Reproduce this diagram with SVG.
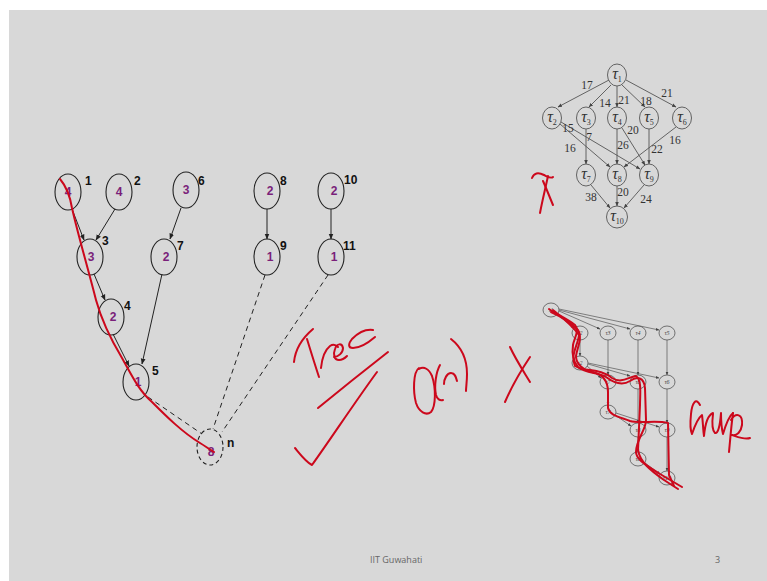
<svg xmlns="http://www.w3.org/2000/svg" width="767" height="581" viewBox="0 0 767 581">
  <style>
    .tn { fill: none; stroke: #222; stroke-width: 1.1; }
    .tnd { fill: none; stroke: #222; stroke-width: 1.1; stroke-dasharray: 4 3; }
    .tv { font-family: "Liberation Sans", Arial, sans-serif; font-weight: bold; font-size: 12px; fill: #7a1f7a; text-anchor: middle; }
    .ti { font-family: "Liberation Sans", Arial, sans-serif; font-weight: bold; font-size: 12px; fill: #111; }
    .te { stroke: #222; stroke-width: 1; fill: none; }
    .ted { stroke: #222; stroke-width: 1; fill: none; stroke-dasharray: 5 4; }
    .dn { fill: none; stroke: #555; stroke-width: 0.9; }
    .dl { font-family: "Liberation Serif", "Times New Roman", serif; font-style: italic; font-size: 16px; fill: #333; text-anchor: middle; }
    .ds { font-size: 8px; font-style: normal; }
    .de { stroke: #555; stroke-width: 0.9; fill: none; }
    .dw { font-family: "Liberation Serif", "Times New Roman", serif; font-size: 11.5px; fill: #333; text-anchor: middle; }
    .gn { fill: none; stroke: #555; stroke-width: 0.8; }
    .gl { font-family: "Liberation Serif", serif; font-style: italic; font-size: 6px; fill: #444; text-anchor: middle; }
    .ge { stroke: #555; stroke-width: 0.7; fill: none; }
    .ink { fill: none; stroke: #cc081c; stroke-width: 2; stroke-linecap: round; stroke-linejoin: round; }
    .foot { font-family: "Open Sans", "Liberation Sans", sans-serif; font-size: 9px; fill: #666; }
  </style>
  <defs>
    <marker id="ah" viewBox="0 0 10 10" refX="9" refY="5" markerWidth="6" markerHeight="6" orient="auto">
      <path d="M0,1 L10,5 L0,9 z" fill="#222"/>
    </marker>
    <marker id="ahs" viewBox="0 0 10 10" refX="9" refY="5" markerWidth="5" markerHeight="5" orient="auto">
      <path d="M0,1 L10,5 L0,9 z" fill="#444"/>
    </marker>
  </defs>

  <!-- slide background -->
  <rect x="0" y="0" width="767" height="581" fill="#ffffff"/>
  <rect x="9" y="10" width="758" height="571" fill="#d8d8d8"/>

  <!-- tree connectors -->
  <g id="tree-connectors">
    <line class="te" x1="72" y1="209" x2="84" y2="240" marker-end="url(#ah)"/>
    <line class="te" x1="115" y1="209" x2="96" y2="240" marker-end="url(#ah)"/>
    <line class="te" x1="94" y1="274" x2="105" y2="300" marker-end="url(#ah)"/>
    <line class="te" x1="181" y1="208" x2="170" y2="239" marker-end="url(#ah)"/>
    <line class="te" x1="162" y1="274" x2="142" y2="364" marker-end="url(#ah)"/>
    <line class="te" x1="113" y1="334" x2="129" y2="366" marker-end="url(#ah)"/>
    <line class="te" x1="267" y1="209" x2="267" y2="239" marker-end="url(#ah)"/>
    <line class="te" x1="331" y1="209" x2="331" y2="239" marker-end="url(#ah)"/>
    <line class="ted" x1="148" y1="397" x2="202" y2="434"/>
    <line class="ted" x1="265" y1="275" x2="213" y2="429"/>
    <line class="ted" x1="328" y1="275" x2="222" y2="432"/>
  </g>

  <!-- tree nodes -->
  <g id="t1"><ellipse class="tn" cx="68" cy="192" rx="13" ry="18"/><text class="tv" x="68" y="196">4</text><text class="ti" x="85" y="185">1</text></g>
  <g id="t2"><ellipse class="tn" cx="119" cy="192" rx="13" ry="18"/><text class="tv" x="119" y="196">4</text><text class="ti" x="134" y="185">2</text></g>
  <g id="t6"><ellipse class="tn" cx="186" cy="190" rx="13" ry="18"/><text class="tv" x="186" y="194">3</text><text class="ti" x="198" y="185">6</text></g>
  <g id="t3"><ellipse class="tn" cx="90" cy="257" rx="13" ry="18"/><text class="tv" x="91" y="261">3</text><text class="ti" x="102" y="245">3</text></g>
  <g id="t7"><ellipse class="tn" cx="164" cy="257" rx="13" ry="18"/><text class="tv" x="166" y="261">2</text><text class="ti" x="177" y="250">7</text></g>
  <g id="t4"><ellipse class="tn" cx="111" cy="317" rx="13" ry="18"/><text class="tv" x="113" y="321">2</text><text class="ti" x="124" y="310">4</text></g>
  <g id="t5"><ellipse class="tn" cx="136" cy="382" rx="13" ry="18"/><text class="tv" x="138" y="386">1</text><text class="ti" x="152" y="375">5</text></g>
  <g id="t8"><ellipse class="tn" cx="267" cy="191" rx="13" ry="18"/><text class="tv" x="270" y="195">2</text><text class="ti" x="280" y="185">8</text></g>
  <g id="t9"><ellipse class="tn" cx="267" cy="257" rx="13" ry="18"/><text class="tv" x="270" y="261">1</text><text class="ti" x="280" y="250">9</text></g>
  <g id="t10"><ellipse class="tn" cx="331" cy="191" rx="13" ry="18"/><text class="tv" x="334" y="195">2</text><text class="ti" x="344" y="184">10</text></g>
  <g id="t11"><ellipse class="tn" cx="331" cy="257" rx="13" ry="18"/><text class="tv" x="334" y="261">1</text><text class="ti" x="343" y="250">11</text></g>
  <g id="tn"><ellipse class="tnd" cx="210" cy="447" rx="13" ry="18"/><text class="tv" x="211" y="456">8</text><text class="ti" x="227" y="447">n</text></g>

  <!-- path traced over the tree -->
  <path class="ink" d="M60,179 C66,186 70,196 72,208 C78,235 88,268 96,300 C102,322 110,338 122,358 C130,372 138,390 152,402 C166,416 182,432 200,443 C205,446 209,449 214,452"/>

  <!-- task graph connectors -->
  <g id="dag-connectors">
    <line class="de" x1="609" y1="80" x2="558" y2="107" marker-end="url(#ahs)"/>
    <line class="de" x1="611" y1="85" x2="589" y2="107" marker-end="url(#ahs)"/>
    <line class="de" x1="617" y1="86" x2="617" y2="107" marker-end="url(#ahs)"/>
    <line class="de" x1="622" y1="85" x2="645" y2="107" marker-end="url(#ahs)"/>
    <line class="de" x1="626" y1="80" x2="676" y2="107" marker-end="url(#ahs)"/>
    <line class="de" x1="560" y1="124" x2="610" y2="167" marker-end="url(#ahs)"/>
    <line class="de" x1="561" y1="122" x2="640" y2="169" marker-end="url(#ahs)"/>
    <line class="de" x1="586" y1="129" x2="586" y2="164" marker-end="url(#ahs)"/>
    <line class="de" x1="617" y1="129" x2="617" y2="164" marker-end="url(#ahs)"/>
    <line class="de" x1="622" y1="128" x2="645" y2="165" marker-end="url(#ahs)"/>
    <line class="de" x1="649" y1="129" x2="649" y2="164" marker-end="url(#ahs)"/>
    <line class="de" x1="676" y1="127" x2="624" y2="167" marker-end="url(#ahs)"/>
    <line class="de" x1="591" y1="185" x2="610" y2="208" marker-end="url(#ahs)"/>
    <line class="de" x1="617" y1="186" x2="617" y2="206" marker-end="url(#ahs)"/>
    <line class="de" x1="644" y1="185" x2="624" y2="208" marker-end="url(#ahs)"/>
    <text class="dw" x="587" y="89">17</text>
    <text class="dw" x="605" y="107">14</text>
    <text class="dw" x="624" y="104">21</text>
    <text class="dw" x="646" y="105">18</text>
    <text class="dw" x="667" y="97">21</text>
    <text class="dw" x="568" y="132">15</text>
    <text class="dw" x="589" y="141">7</text>
    <text class="dw" x="633" y="134">20</text>
    <text class="dw" x="570" y="152">16</text>
    <text class="dw" x="623" y="149">26</text>
    <text class="dw" x="657" y="153">22</text>
    <text class="dw" x="675" y="144">16</text>
    <text class="dw" x="591" y="201">38</text>
    <text class="dw" x="623" y="196">20</text>
    <text class="dw" x="646" y="203">24</text>
  </g>

  <!-- task graph nodes -->
  <g id="d1"><ellipse class="dn" cx="617" cy="75" rx="9.5" ry="11"/><text class="dl" x="617" y="79">τ<tspan class="ds" dy="3">1</tspan></text></g>
  <g id="d2"><ellipse class="dn" cx="552" cy="118" rx="9.5" ry="11"/><text class="dl" x="552" y="122">τ<tspan class="ds" dy="3">2</tspan></text></g>
  <g id="d3"><ellipse class="dn" cx="586" cy="118" rx="9.5" ry="11"/><text class="dl" x="586" y="122">τ<tspan class="ds" dy="3">3</tspan></text></g>
  <g id="d4"><ellipse class="dn" cx="617" cy="118" rx="9.5" ry="11"/><text class="dl" x="617" y="122">τ<tspan class="ds" dy="3">4</tspan></text></g>
  <g id="d5"><ellipse class="dn" cx="649" cy="118" rx="9.5" ry="11"/><text class="dl" x="649" y="122">τ<tspan class="ds" dy="3">5</tspan></text></g>
  <g id="d6"><ellipse class="dn" cx="682" cy="118" rx="9.5" ry="11"/><text class="dl" x="682" y="122">τ<tspan class="ds" dy="3">6</tspan></text></g>
  <g id="d7"><ellipse class="dn" cx="586" cy="175" rx="9.5" ry="11"/><text class="dl" x="586" y="179">τ<tspan class="ds" dy="3">7</tspan></text></g>
  <g id="d8"><ellipse class="dn" cx="617" cy="175" rx="9.5" ry="11"/><text class="dl" x="617" y="179">τ<tspan class="ds" dy="3">8</tspan></text></g>
  <g id="d9"><ellipse class="dn" cx="649" cy="175" rx="9.5" ry="11"/><text class="dl" x="649" y="179">τ<tspan class="ds" dy="3">9</tspan></text></g>
  <g id="d10"><ellipse class="dn" cx="617" cy="217" rx="10.5" ry="11"/><text class="dl" x="617" y="221">τ<tspan class="ds" dy="3">10</tspan></text></g>

  <!-- chain graph connectors -->
  <g id="grid-connectors">
    <line class="ge" x1="557" y1="314" x2="574" y2="328" marker-end="url(#ahs)"/>
    <line class="ge" x1="559" y1="311" x2="600" y2="329" marker-end="url(#ahs)"/>
    <line class="ge" x1="559" y1="310" x2="630" y2="329" marker-end="url(#ahs)"/>
    <line class="ge" x1="559" y1="309" x2="659" y2="330" marker-end="url(#ahs)"/>
    <line class="ge" x1="580" y1="340" x2="580" y2="356" marker-end="url(#ahs)"/>
    <line class="ge" x1="608" y1="340" x2="608" y2="375" marker-end="url(#ahs)"/>
    <line class="ge" x1="638" y1="340" x2="638" y2="375" marker-end="url(#ahs)"/>
    <line class="ge" x1="667" y1="340" x2="667" y2="375" marker-end="url(#ahs)"/>
    <line class="ge" x1="587" y1="366" x2="601" y2="378" marker-end="url(#ahs)"/>
    <line class="ge" x1="588" y1="364" x2="630" y2="376" marker-end="url(#ahs)"/>
    <line class="ge" x1="588" y1="363" x2="659" y2="378" marker-end="url(#ahs)"/>
    <line class="ge" x1="608" y1="389" x2="608" y2="405" marker-end="url(#ahs)"/>
    <line class="ge" x1="638" y1="389" x2="638" y2="423" marker-end="url(#ahs)"/>
    <line class="ge" x1="667" y1="389" x2="667" y2="423" marker-end="url(#ahs)"/>
    <line class="ge" x1="615" y1="415" x2="631" y2="426" marker-end="url(#ahs)"/>
    <line class="ge" x1="616" y1="413" x2="659" y2="427" marker-end="url(#ahs)"/>
    <line class="ge" x1="638" y1="437" x2="638" y2="452" marker-end="url(#ahs)"/>
    <line class="ge" x1="667" y1="437" x2="667" y2="471" marker-end="url(#ahs)"/>
    <line class="ge" x1="645" y1="463" x2="660" y2="474" marker-end="url(#ahs)"/>
  </g>

  <!-- chain graph nodes -->
  <g id="g1"><ellipse class="gn" cx="551" cy="310" rx="8" ry="7"/><text class="gl" x="551" y="312">τ1</text></g>
  <g id="g2"><ellipse class="gn" cx="580" cy="333" rx="8" ry="7"/><text class="gl" x="580" y="335">τ2</text></g>
  <g id="g3"><ellipse class="gn" cx="608" cy="333" rx="8" ry="7"/><text class="gl" x="608" y="335">τ3</text></g>
  <g id="g4"><ellipse class="gn" cx="638" cy="333" rx="8" ry="7"/><text class="gl" x="638" y="335">τ4</text></g>
  <g id="g5"><ellipse class="gn" cx="667" cy="333" rx="8" ry="7"/><text class="gl" x="667" y="335">τ5</text></g>
  <g id="g6"><ellipse class="gn" cx="580" cy="363" rx="8" ry="7"/><text class="gl" x="580" y="365">τ2</text></g>
  <g id="g7"><ellipse class="gn" cx="608" cy="382" rx="8" ry="7"/><text class="gl" x="608" y="384">τ7</text></g>
  <g id="g8"><ellipse class="gn" cx="638" cy="382" rx="8" ry="7"/><text class="gl" x="638" y="384">τ8</text></g>
  <g id="g9"><ellipse class="gn" cx="667" cy="382" rx="8" ry="7"/><text class="gl" x="667" y="384">τ6</text></g>
  <g id="g10"><ellipse class="gn" cx="608" cy="412" rx="8" ry="7"/><text class="gl" x="608" y="414">τ7</text></g>
  <g id="g11"><ellipse class="gn" cx="638" cy="430" rx="8" ry="7"/><text class="gl" x="638" y="432">τ8</text></g>
  <g id="g12"><ellipse class="gn" cx="667" cy="430" rx="8" ry="7"/><text class="gl" x="667" y="432">τ9</text></g>
  <g id="g13"><ellipse class="gn" cx="638" cy="459" rx="8" ry="7"/><text class="gl" x="638" y="461">τ8</text></g>
  <g id="g14"><ellipse class="gn" cx="667" cy="478" rx="8" ry="7"/><text class="gl" x="667" y="480">τ10</text></g>

  <!-- handwritten annotations -->
  <g id="ink">
    <!-- cross beside the task graph -->
    <path class="ink" d="M532,178 C534,173 538,172 544,175 C548,177 551,179 553,177"/>
    <path class="ink" d="M548,176 C545,190 542,202 540,213"/>
    <path class="ink" d="M543,181 C547,190 550,198 553,205"/>
    <!-- "Trec" -->
    <path class="ink" d="M294,362 C295,352 300,340 313,329"/>
    <path class="ink" d="M307,339 C311,352 315,365 319,377"/>
    <path class="ink" d="M321,368 C322,358 325,350 330,346 C333,344 336,345 338,347"/>
    <path class="ink" d="M334,357 C338,357 343,353 343,348 C342,343 337,343 335,349 C333,354 334,360 339,360 C342,360 345,358 347,356"/>
    <path class="ink" d="M373,330 C366,329 358,333 352,339 C348,344 348,348 353,348 C360,348 368,343 375,337"/>
    <path class="ink" d="M318,408 C340,390 365,370 388,352"/>
    <!-- tick -->
    <path class="ink" d="M295,448 C300,454 306,462 312,465 C330,440 355,402 377,372"/>
    <!-- "O(n)" -->
    <path class="ink" d="M419,368 C413,372 413,392 416,403 C419,412 426,416 431,412 C436,406 436,388 432,376 C429,369 424,366 419,369"/>
    <path class="ink" d="M440,365 C436,372 434,386 436,395 C437,399 440,401 443,400"/>
    <path class="ink" d="M444,384 C444,379 447,373 451,373 C455,373 456,377 457,381"/>
    <path class="ink" d="M451,339 C460,346 467,358 467,374 C467,382 466,387 466,391"/>
    <!-- cross -->
    <path class="ink" d="M510,347 C516,360 524,372 530,382"/>
    <path class="ink" d="M530,357 C520,372 511,388 505,402"/>
    <!-- "Grup" -->
    <path class="ink" d="M700,405 C696,397 692,403 691,414 C690,424 690,430 692,434 C695,425 698,418 702,415 C703,422 703,430 704,436 C705,425 708,415 713,413"/>
    <path class="ink" d="M713,414 C712,422 712,430 715,433 C718,434 720,426 721,413 C721,422 722,430 723,434 C726,424 729,416 733,413"/>
    <path class="ink" d="M733,413 C731,428 730,442 729,452 M731,420 C736,412 743,414 742,425 C741,432 737,436 732,435 C738,437 745,440 750,438"/>
    <!-- strokes traced through the chain graph -->
    <path class="ink" d="M549,309 C556,314 566,318 575,325 C580,331 574,338 573,345 C572,352 572,360 578,367 C586,374 598,372 606,377 C614,383 622,386 630,381 C637,376 644,377 645,388 L646,420 C646,430 636,440 636,452 C636,460 648,466 660,474 L682,487"/>
    <path class="ink" d="M551,312 C560,316 570,322 578,330 C583,338 577,348 576,356 C576,364 583,370 592,372 C602,374 608,380 608,392 L608,408 C610,416 620,417 630,421 C640,424 655,420 668,423 L669,475 L674,486"/>
    <path class="ink" d="M553,310 C563,318 572,325 579,335 C578,345 570,355 575,366 C585,372 600,368 612,378 C622,384 628,377 636,376 C642,380 640,395 640,405 L638,450 C640,462 650,470 664,480 L678,489"/>
  </g>

  <!-- footer -->
  <text class="foot" x="370" y="563">IIT Guwahati</text>
  <text class="foot" x="715" y="563">3</text>
</svg>
